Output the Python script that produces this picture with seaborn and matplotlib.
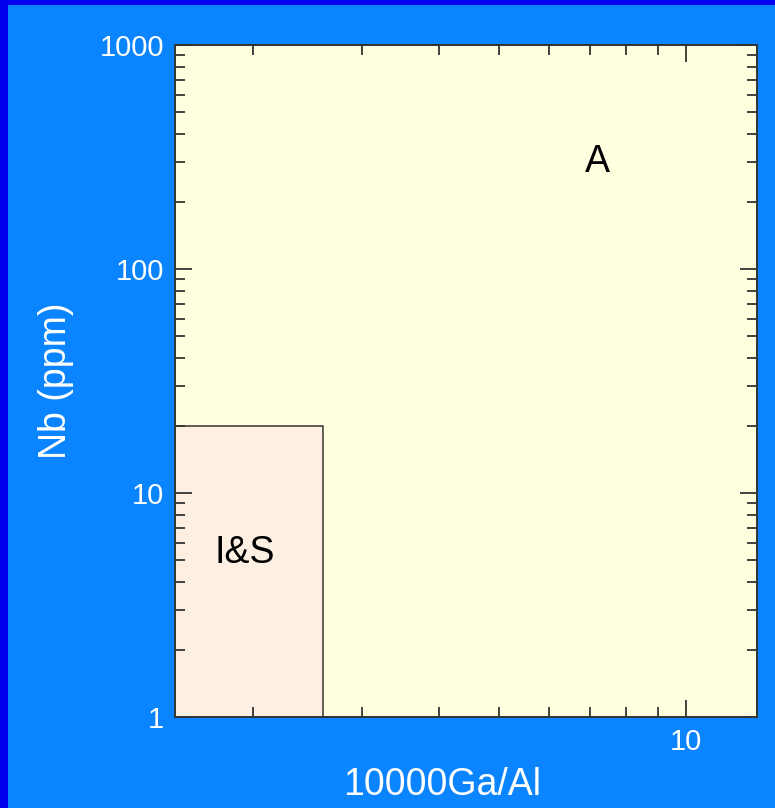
import matplotlib
matplotlib.use("Agg")
import matplotlib.pyplot as plt
import matplotlib.ticker as mticker
from matplotlib.patches import Rectangle
import numpy as np
import pandas as pd
import seaborn as sns

# Whalen et al. (1987) discrimination diagram: Nb vs 10000Ga/Al
x_limits = [1.5, 13.0]          # 10000Ga/Al
y_limits = [1.0, 1000.0]        # Nb (ppm)
is_ga_al_max = 2.6              # I&S field upper bound on 10000Ga/Al
is_nb_max = 20.0                # I&S field upper bound on Nb
field_names = ["A", "I&S"]
field_label_x = [7.2, 1.94]
field_label_y = [300.0, 5.4]
y_tick_values = [1, 10, 100, 1000]
y_tick_labels = ["1", "10", "100", "1000"]
x_tick_values = [10]
x_tick_labels = ["10"]

sns.set_theme(style="white")
plt.rcParams["font.family"] = ["Liberation Sans", "DejaVu Sans"]

BG = "#0A84FF"
EDGE = "#333333"

fig = plt.figure(figsize=(7.75, 8.08), dpi=100, facecolor=BG)
# darker frame strips along the top and left edges
fig.patches.append(Rectangle((0, 0), 8 / 775, 1, transform=fig.transFigure,
                             facecolor="#0000EE", edgecolor="none", zorder=0))
fig.patches.append(Rectangle((0, 1 - 5 / 808), 1, 5 / 808, transform=fig.transFigure,
                             facecolor="#0000EE", edgecolor="none", zorder=0))

ax = fig.add_axes([175 / 775, 1 - 717 / 808, (757 - 175) / 775, (717 - 45) / 808])
ax.set_facecolor("#FFFFE0")
ax.set_axisbelow(False)
ax.set_xscale("log")
ax.set_yscale("log")
ax.set_xlim(*x_limits)
ax.set_ylim(*y_limits)

# I&S field
ax.fill_between([x_limits[0], is_ga_al_max], y_limits[0], is_nb_max,
                color="#FDEFE1", linewidth=0, zorder=1)
boundary = pd.DataFrame({
    "x": [x_limits[0], is_ga_al_max, is_ga_al_max],
    "y": [is_nb_max, is_nb_max, y_limits[0]],
})
sns.lineplot(data=boundary, x="x", y="y", sort=False, estimator=None,
             color=EDGE, linewidth=1.1, ax=ax, zorder=2)

for name, lx, ly in zip(field_names, field_label_x, field_label_y):
    ax.text(lx, ly, name, ha="center", va="center", fontsize=27, color="black", zorder=3)

for s in ax.spines.values():
    s.set_color(EDGE)
    s.set_linewidth(1.4)
    s.set_visible(True)
    s.set_zorder(4)

ax.yaxis.set_major_locator(mticker.FixedLocator(y_tick_values))
ax.yaxis.set_major_formatter(mticker.FixedFormatter(y_tick_labels))
ax.yaxis.set_minor_locator(mticker.LogLocator(base=10, subs=np.arange(2, 10)))
ax.yaxis.set_minor_formatter(mticker.NullFormatter())
ax.xaxis.set_major_locator(mticker.FixedLocator(x_tick_values))
ax.xaxis.set_major_formatter(mticker.FixedFormatter(x_tick_labels))
ax.xaxis.set_minor_locator(mticker.LogLocator(base=10, subs=np.arange(2, 10)))
ax.xaxis.set_minor_formatter(mticker.NullFormatter())

ax.tick_params(which="both", direction="in", top=True, right=True, bottom=True, left=True,
               color=EDGE, width=1.3, labelcolor="white", labelsize=21)
ax.tick_params(which="major", length=12, pad=8)
ax.tick_params(which="minor", length=7)

ax.set_xlabel("10000Ga/Al", color="white", fontsize=27, labelpad=8)
ax.xaxis.label.set_x(0.459)
ax.set_ylabel("Nb (ppm)", color="white", fontsize=27, labelpad=18)
ax.grid(False)

fig.savefig("out.png", dpi=100, facecolor=BG)
